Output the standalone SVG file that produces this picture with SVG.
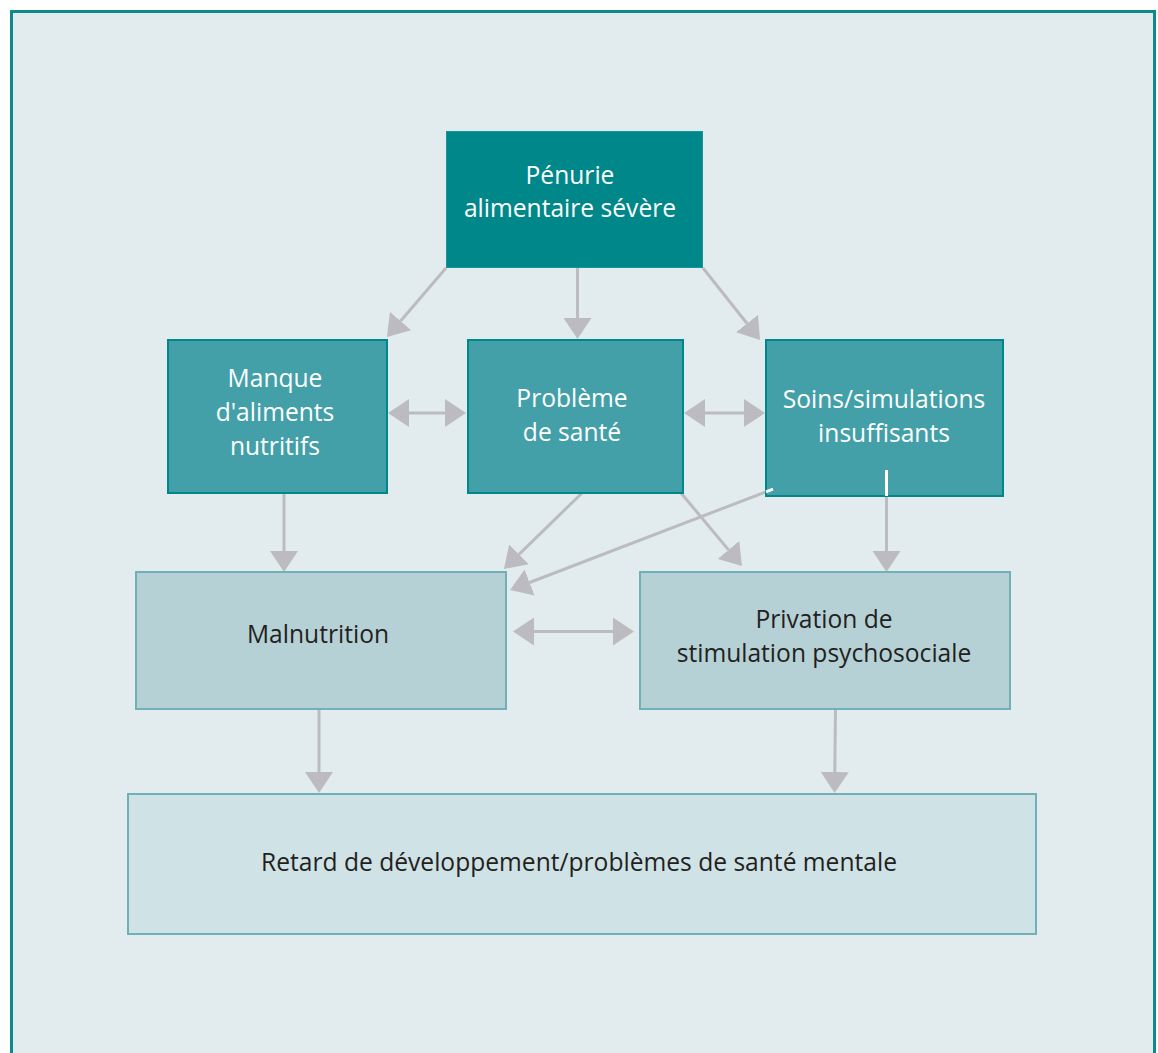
<svg xmlns="http://www.w3.org/2000/svg" width="1158" height="1053" viewBox="0 0 1158 1053">
<style>
.t{font-family:"Open Sans","Noto Sans","Liberation Sans",sans-serif;font-size:24.6px;text-anchor:middle}
.w{fill:#ffffff}
.d{fill:#231f20}
.dark{fill:#00878a;stroke:#1a9497;stroke-width:1}
.mid{fill:#43a0a8;stroke:#00878a;stroke-width:2}
.lite{fill:#b5d1d6;stroke:#6fb1b7;stroke-width:2}
.lite2{fill:#cfe2e6;stroke:#6fb1b7;stroke-width:2}
.c{stroke:#bcbcc0;stroke-width:3;fill:none}
.cw{stroke:#ffffff;stroke-width:3;fill:none}
</style>
<defs>
<marker id="ah" viewBox="0 -14 21 28" refX="0" refY="0" markerWidth="21" markerHeight="28" markerUnits="userSpaceOnUse" orient="auto-start-reverse">
<path d="M0,-14 L21,0 L0,14 Z" fill="#bcbcc0"/>
</marker>
</defs>
<rect x="0" y="0" width="1158" height="1053" fill="#ffffff"/>
<rect x="11.5" y="11.5" width="1143" height="1100" fill="#e2ecee" stroke="#0e8a8c" stroke-width="3"/>

<g id="connectors">
<line class="c" x1="446" y1="268" x2="400.6" y2="321" marker-end="url(#ah)"/>
<line class="c" x1="577.5" y1="268" x2="577.5" y2="318" marker-end="url(#ah)"/>
<line class="c" x1="703" y1="268" x2="747" y2="323.5" marker-end="url(#ah)"/>
<line class="c" x1="409" y1="413" x2="445" y2="413" marker-start="url(#ah)" marker-end="url(#ah)"/>
<line class="c" x1="705" y1="413" x2="744" y2="413" marker-start="url(#ah)" marker-end="url(#ah)"/>
<line class="c" x1="284" y1="493" x2="284" y2="551" marker-end="url(#ah)"/>
<line class="c" x1="582" y1="493" x2="519" y2="554.3" marker-end="url(#ah)"/>
<line class="c" x1="681" y1="493" x2="728.5" y2="549.9" marker-end="url(#ah)"/>
<line class="c" x1="766" y1="491.8" x2="529.6" y2="582.5" marker-end="url(#ah)"/>
<line class="c" x1="886.5" y1="496" x2="886.5" y2="551" marker-end="url(#ah)"/>
<line class="c" x1="534" y1="631.5" x2="613" y2="631.5" marker-start="url(#ah)" marker-end="url(#ah)"/>
<line class="c" x1="319" y1="709" x2="319" y2="772" marker-end="url(#ah)"/>
<line class="c" x1="835.5" y1="709" x2="834.8" y2="772" marker-end="url(#ah)"/>
</g>

<g id="n-penurie">
<rect class="dark" x="446.5" y="131.5" width="256" height="136"/>
<text class="t w" x="570" y="184">Pénurie</text>
<text class="t w" x="570" y="217">alimentaire sévère</text>
</g>
<g id="n-manque">
<rect class="mid" x="168" y="340" width="219" height="153"/>
<text class="t w" x="275" y="387">Manque</text>
<text class="t w" x="275" y="421">d'aliments</text>
<text class="t w" x="275" y="455">nutritifs</text>
</g>
<g id="n-probleme">
<rect class="mid" x="468" y="340" width="215" height="153"/>
<text class="t w" x="572" y="407">Problème</text>
<text class="t w" x="572" y="441">de santé</text>
</g>
<g id="n-soins">
<rect class="mid" x="766" y="340" width="237" height="156"/>
<text class="t w" x="884" y="408">Soins/simulations</text>
<text class="t w" x="884" y="442">insuffisants</text>
<line class="cw" x1="773" y1="489.2" x2="766" y2="491.8"/>
<line class="cw" x1="886.5" y1="470" x2="886.5" y2="496"/>
</g>
<g id="n-malnutrition">
<rect class="lite" x="136" y="572" width="370" height="137"/>
<text class="t d" x="318" y="643">Malnutrition</text>
</g>
<g id="n-privation">
<rect class="lite" x="640" y="572" width="370" height="137"/>
<text class="t d" x="824" y="628">Privation de</text>
<text class="t d" x="824" y="662">stimulation psychosociale</text>
</g>
<g id="n-retard">
<rect class="lite2" x="128" y="794" width="908" height="140"/>
<text class="t d" x="579" y="871">Retard de développement/problèmes de santé mentale</text>
</g>
</svg>
